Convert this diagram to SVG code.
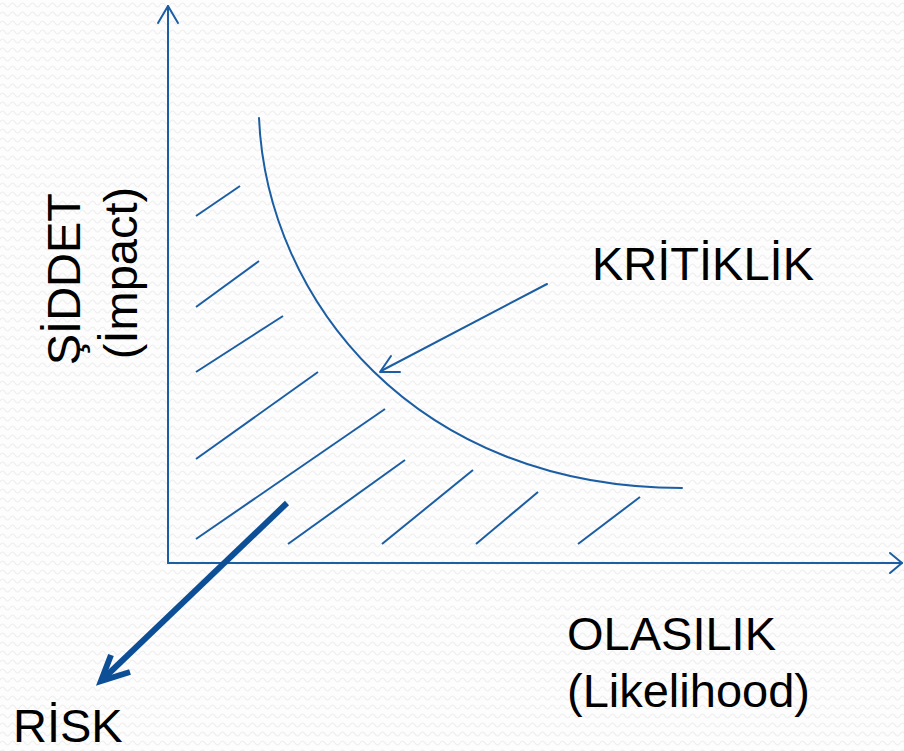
<svg xmlns="http://www.w3.org/2000/svg" width="904" height="751" viewBox="0 0 904 751">
  <defs>
    <pattern id="bgwave" x="0" y="0" width="10" height="9" patternUnits="userSpaceOnUse">
      <rect width="10" height="9" fill="#fdfdfd"/>
      <path d="M0,5 Q2.5,1 5,5 T10,5" fill="none" stroke="#efefef" stroke-width="1.2"/>
    </pattern>
    <style>
      .thin { fill: none; stroke: #1b5ea3; stroke-width: 2; stroke-linecap: round; stroke-linejoin: round; }
      .hatch { fill: none; stroke: #1b5ea3; stroke-width: 2; }
      .thick { fill: none; stroke: #0d4f97; stroke-width: 6; stroke-linejoin: miter; }
      .lbl { font-family: "Liberation Sans", Arial, sans-serif; font-size: 47px; fill: #000; }
    </style>
  </defs>
  <rect width="904" height="751" fill="url(#bgwave)"/>

  <g id="connectors">
    <!-- axes -->
    <g id="y-axis">
      <line class="thin" x1="168" y1="563" x2="168" y2="6"/>
      <polyline class="thin" points="158,23 168,6 178,23"/>
    </g>
    <g id="x-axis">
      <line class="thin" x1="168" y1="563" x2="902" y2="563"/>
      <polyline class="thin" points="890,553 902,563 890,573"/>
    </g>
    <!-- criticality curve -->
    <path id="curve" class="thin" d="M259,118 C267,300 415,488 682,488"/>
    <!-- hatch lines -->
    <g id="hatch">
      <line class="hatch" x1="196" y1="216" x2="240" y2="186"/>
      <line class="hatch" x1="196" y1="307" x2="259" y2="261"/>
      <line class="hatch" x1="196" y1="372" x2="283" y2="316"/>
      <line class="hatch" x1="196" y1="459" x2="318" y2="372"/>
      <line class="hatch" x1="196" y1="539" x2="385" y2="409"/>
      <line class="hatch" x1="288" y1="544" x2="405" y2="460"/>
      <line class="hatch" x1="382" y1="544" x2="473" y2="470"/>
      <line class="hatch" x1="476" y1="544" x2="538" y2="492"/>
      <line class="hatch" x1="578" y1="544" x2="640" y2="497"/>
    </g>
    <!-- KRİTİKLİK pointer -->
    <g id="kritiklik-arrow">
      <line class="thin" x1="547" y1="284" x2="381" y2="371"/>
      <polyline class="thin" points="391,356 380,372 400,372"/>
    </g>
    <!-- RİSK pointer -->
    <g id="risk-arrow">
      <line class="thick" x1="287" y1="503" x2="103" y2="679"/>
      <polyline class="thick" points="111,655 101,681 130,672"/>
    </g>
  </g>

  <g id="label-siddet">
    <text class="lbl" text-anchor="middle" transform="translate(80,273) rotate(-90)">
      <tspan x="0" y="0">ŞİDDET</tspan>
      <tspan x="0" y="57">(İmpact)</tspan>
    </text>
  </g>
  <g id="label-kritiklik">
    <text class="lbl" x="592" y="280">KRİTİKLİK</text>
  </g>
  <g id="label-olasilik">
    <text class="lbl" x="567" y="650">OLASILIK</text>
    <text class="lbl" x="567" y="707">(Likelihood)</text>
  </g>
  <g id="label-risk">
    <text class="lbl" x="13" y="742">RİSK</text>
  </g>
</svg>
